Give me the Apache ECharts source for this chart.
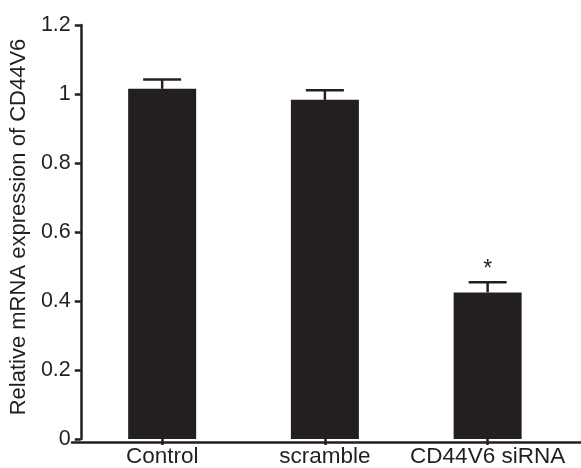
<!DOCTYPE html>
<html><head><meta charset="utf-8">
<script src="https://cdn.jsdelivr.net/npm/echarts@6/dist/echarts.min.js"></script>
<style>html,body{margin:0;padding:0;background:#fff}#c{width:581px;height:468px}</style>
</head><body><div id="c"></div>
<script>
var categories = ['Control', 'scramble', 'CD44V6 siRNA'];
var means = [1.015, 0.983, 0.425];
var errors = [0.027, 0.028, 0.029];
var marks = ['', '', '*'];
var yTicks = [0, 0.2, 0.4, 0.6, 0.8, 1, 1.2];

var ink = '#231f20';
var font = 'Liberation Sans, Arial, Helvetica, sans-serif';
var chart = echarts.init(document.getElementById('c'));
chart.setOption({
  animation: false,
  grid: [
    {left: 78, width: 491, top: 25, bottom: 26},
    {left: 72, right: 0, top: 25, bottom: 26}
  ],
  xAxis: [{
    type: 'category', data: categories, gridIndex: 0,
    axisLine: {show: false},
    axisTick: {show: true, alignWithLabel: true, length: 6, lineStyle: {color: ink, width: 2.5}},
    axisLabel: {color: ink, fontSize: 22.5, fontFamily: font, margin: 6, interval: 0}
  }, {
    type: 'value', gridIndex: 1, min: 0, max: 1,
    axisLine: {show: true, lineStyle: {color: ink, width: 2.5}},
    axisTick: {show: false}, axisLabel: {show: false}, splitLine: {show: false}
  }],
  yAxis: [{
    type: 'value', gridIndex: 0, min: yTicks[0], max: yTicks[yTicks.length - 1], interval: 0.2,
    name: 'Relative mRNA expression of CD44V6', nameLocation: 'middle', nameGap: 44,
    nameTextStyle: {color: ink, fontSize: 22, fontFamily: font, padding: [0, 0, 0, 10]},
    axisLine: {show: true, lineStyle: {color: ink, width: 2.5}},
    axisTick: {show: true, length: 6, lineStyle: {color: ink, width: 2.5}},
    axisLabel: {color: ink, fontSize: 21.5, fontFamily: font, margin: 10,
      formatter: function (v) { return String(Math.round(v * 10) / 10); }},
    splitLine: {show: false}
  }, {
    type: 'value', gridIndex: 1, min: 0, max: 1, show: false
  }],
  series: [{
    type: 'bar', data: means, barWidth: 68, xAxisIndex: 0, yAxisIndex: 0,
    itemStyle: {color: ink}
  }, {
    type: 'custom', xAxisIndex: 0, yAxisIndex: 0, z: 3,
    data: means.map(function (m, i) { return [i, m, m + errors[i], marks[i]]; }),
    renderItem: function (params, api) {
      var i = api.value(0);
      var base = api.coord([i, api.value(1)]);
      var top = api.coord([i, api.value(2)]);
      var half = 19;
      var st = {stroke: ink, lineWidth: 2.5};
      var children = [
        {type: 'line', shape: {x1: base[0], y1: base[1], x2: top[0], y2: top[1]}, style: st},
        {type: 'line', shape: {x1: top[0] - half, y1: top[1], x2: top[0] + half, y2: top[1]}, style: st}
      ];
      var mk = api.value(3);
      if (mk) {
        children.push({type: 'text', style: {text: String(mk), x: top[0], y: top[1] - 1,
          align: 'center', verticalAlign: 'bottom', fill: ink, fontSize: 23, fontFamily: font}});
      }
      return {type: 'group', children: children};
    }
  }]
});
</script></body></html>
